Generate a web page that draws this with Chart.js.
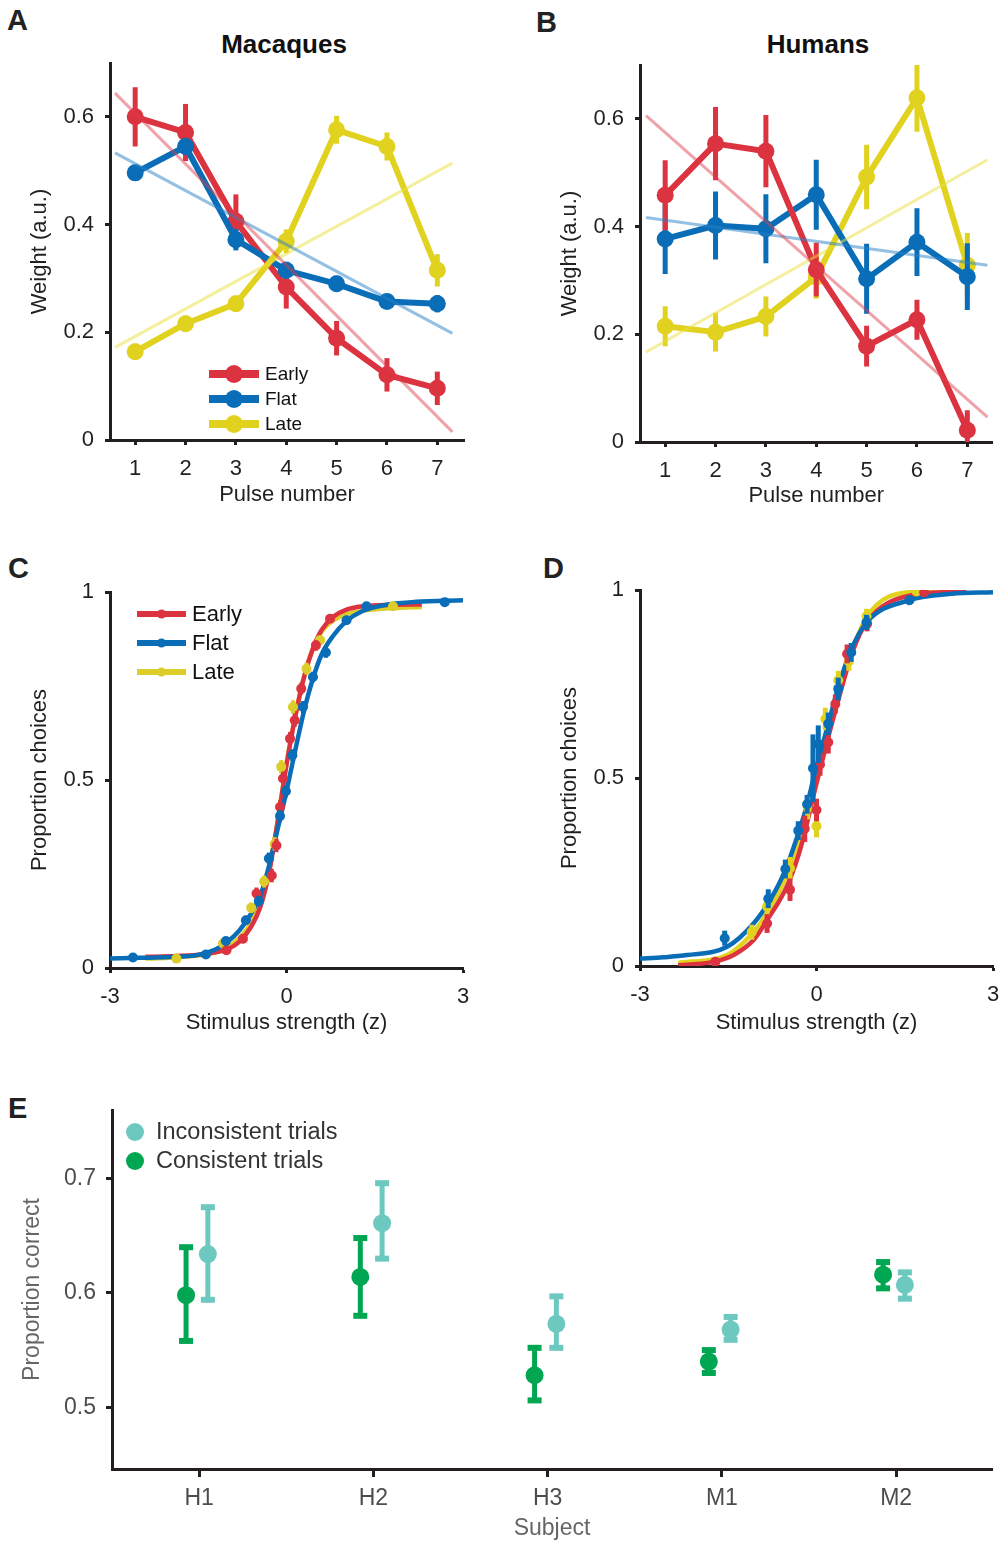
<!DOCTYPE html>
<html>
<head>
<meta charset="utf-8">
<script src="https://cdn.jsdelivr.net/npm/chart.js@4.4.1/dist/chart.umd.min.js"></script>
<style>
  body { margin: 0; background: #fff; width: 1001px; height: 1542px; position: relative; overflow: hidden;
         font-family: "Liberation Sans", Arial, Helvetica, sans-serif; }
  canvas { position: absolute; }
  .letter { position: absolute; font-weight: bold; font-size: 29px; line-height: 1; color: #222; }
  .title { position: absolute; font-weight: bold; font-size: 26px; line-height: 1; color: #111; transform: translateX(-50%); white-space: nowrap; }
</style>
</head>
<body>
<div class="letter" style="left:7px;top:6px">A</div>
<div class="letter" style="left:536px;top:8px">B</div>
<div class="letter" style="left:8px;top:554px">C</div>
<div class="letter" style="left:543px;top:554px">D</div>
<div class="letter" style="left:8px;top:1094px">E</div>
<div class="title" style="left:284px;top:31px">Macaques</div>
<div class="title" style="left:818px;top:31px">Humans</div>

<canvas id="cA" width="500" height="520" style="left:0;top:0"></canvas>
<canvas id="cB" width="471" height="520" style="left:530px;top:0"></canvas>
<canvas id="cC" width="500" height="500" style="left:0;top:550px"></canvas>
<canvas id="cD" width="471" height="500" style="left:530px;top:550px"></canvas>
<canvas id="cE" width="1001" height="462" style="left:0;top:1080px"></canvas>

<script>
// ---- data: panel A (macaques) ----
const pulses = [1, 2, 3, 4, 5, 6, 7];
const macEarly = [0.600, 0.571, 0.406, 0.284, 0.189, 0.121, 0.096];
const macEarlyErr = [0.055, 0.053, 0.050, 0.040, 0.032, 0.031, 0.031];
const macFlat = [0.496, 0.545, 0.372, 0.315, 0.290, 0.257, 0.253];
const macFlatErr = [0.015, 0.016, 0.020, 0.016, 0.015, 0.013, 0.016];
const macLate = [0.164, 0.216, 0.253, 0.369, 0.576, 0.545, 0.315];
const macLateErr = [0.015, 0.015, 0.015, 0.022, 0.026, 0.026, 0.030];
const fitXA = [0.6, 7.3];
const macEarlyFit = [0.644, 0.015];
const macFlatFit = [0.533, 0.198];
const macLateFit = [0.172, 0.514];

// ---- data: panel B (humans) ----
const humEarly = [0.458, 0.554, 0.540, 0.320, 0.178, 0.227, 0.022];
const humEarlyErr = [0.065, 0.068, 0.067, 0.050, 0.038, 0.037, 0.037];
const humFlat = [0.377, 0.402, 0.396, 0.459, 0.303, 0.371, 0.307];
const humFlatErr = [0.065, 0.063, 0.064, 0.065, 0.065, 0.063, 0.062];
const humLate = [0.215, 0.204, 0.233, 0.306, 0.492, 0.639, 0.328];
const humLateErr = [0.037, 0.036, 0.037, 0.040, 0.060, 0.063, 0.060];
const fitXB = [0.62, 7.4];
const humEarlyFit = [0.606, 0.046];
const humFlatFit = [0.417, 0.328];
const humLateFit = [0.167, 0.524];

const weightTicks = [0, 0.2, 0.4, 0.6];
const weightTickLabels = ['0', '0.2', '0.4', '0.6'];
const pulseTickLabels = ['1', '2', '3', '4', '5', '6', '7'];

// ---- data: panel C (macaque psychometric) ----
const cFlatCurveX = [-3, -2.5, -2, -1.5, -1.2, -1.0, -0.8, -0.6, -0.45, -0.3, -0.15, 0, 0.15, 0.3, 0.45, 0.6, 0.8, 1.0, 1.3, 1.7, 2.2, 3];
const cFlatCurveY = [0.025, 0.027, 0.029, 0.035, 0.05, 0.07, 0.10, 0.145, 0.19, 0.27, 0.37, 0.47, 0.58, 0.685, 0.77, 0.835, 0.885, 0.92, 0.95, 0.966, 0.974, 0.978];
const cEarlyCurveX = [-2.4, -2, -1.5, -1.2, -1.0, -0.8, -0.6, -0.45, -0.3, -0.15, 0, 0.15, 0.3, 0.45, 0.6, 0.8, 1.0, 1.3, 1.8, 2.3];
const cEarlyCurveY = [0.03, 0.031, 0.035, 0.042, 0.05, 0.07, 0.11, 0.16, 0.25, 0.39, 0.54, 0.67, 0.775, 0.85, 0.90, 0.935, 0.952, 0.962, 0.966, 0.967];
const cLateCurveX = [-2.4, -2, -1.5, -1.2, -1.0, -0.8, -0.6, -0.45, -0.3, -0.15, 0, 0.15, 0.3, 0.45, 0.6, 0.8, 1.0, 1.3, 1.8, 2.3];
const cLateCurveY = [0.025, 0.027, 0.033, 0.042, 0.055, 0.08, 0.12, 0.175, 0.265, 0.39, 0.545, 0.67, 0.775, 0.85, 0.895, 0.925, 0.94, 0.95, 0.957, 0.96];
const cFlatX = [-2.61, -1.37, -1.03, -0.69, -0.47, -0.30, -0.11, -0.01, 0.10, 0.28, 0.45, 0.67, 1.02, 1.36, 2.69];
const cFlatY = [0.028, 0.036, 0.072, 0.127, 0.178, 0.291, 0.404, 0.470, 0.566, 0.694, 0.774, 0.839, 0.925, 0.962, 0.973];
const cFlatErr = [0.006, 0.008, 0.01, 0.012, 0.014, 0.016, 0.016, 0.016, 0.016, 0.016, 0.014, 0.014, 0.01, 0.008, 0.006];
const cEarlyX = [-1.02, -0.74, -0.51, -0.25, -0.17, -0.11, -0.06, 0.06, 0.14, 0.25, 0.50, 0.74];
const cEarlyY = [0.047, 0.078, 0.198, 0.246, 0.326, 0.428, 0.504, 0.610, 0.659, 0.743, 0.858, 0.929];
const cEarlyErr = [0.01, 0.012, 0.016, 0.018, 0.018, 0.018, 0.018, 0.018, 0.018, 0.016, 0.014, 0.01];
const cLateX = [-1.87, -1.08, -0.60, -0.38, -0.20, -0.09, 0.11, 0.34, 0.57, 1.81];
const cLateY = [0.025, 0.065, 0.16, 0.23, 0.33, 0.535, 0.694, 0.796, 0.872, 0.962];
const cLateErr = [0.006, 0.01, 0.014, 0.016, 0.018, 0.018, 0.018, 0.016, 0.012, 0.006];

// ---- data: panel D (human psychometric) ----
const dFlatCurveX = [-3, -2.6, -2.2, -1.52, -1.07, -0.79, -0.53, -0.31, -0.17, -0.03, 0.2, 0.37, 0.57, 0.85, 1.58, 2.3, 3];
const dFlatCurveY = [0.02, 0.023, 0.029, 0.051, 0.113, 0.175, 0.255, 0.352, 0.423, 0.512, 0.644, 0.741, 0.834, 0.914, 0.973, 0.99, 0.994];
const dEarlyCurveX = [-2.35, -1.75, -1.4, -1.07, -0.84, -0.48, -0.25, -0.03, 0.2, 0.4, 0.62, 0.85, 1.58, 2.55];
const dEarlyCurveY = [0.002, 0.011, 0.03, 0.069, 0.122, 0.22, 0.325, 0.467, 0.609, 0.724, 0.839, 0.914, 0.985, 0.996];
const dLateCurveX = [-2.35, -1.52, -1.1, -0.84, -0.51, -0.28, -0.03, 0.2, 0.46, 0.85, 1.7, 2.27];
const dLateCurveY = [0.008, 0.029, 0.085, 0.14, 0.24, 0.345, 0.485, 0.626, 0.77, 0.927, 0.996, 0.999];
const dFlatX = [-1.56, -0.82, -0.53, -0.31, -0.16, -0.06, 0.03, 0.20, 0.37, 0.59, 0.85, 1.58];
const dFlatY = [0.074, 0.179, 0.258, 0.360, 0.430, 0.526, 0.590, 0.644, 0.737, 0.834, 0.914, 0.973];
const dFlatErr = [0.02, 0.025, 0.025, 0.025, 0.025, 0.09, 0.05, 0.03, 0.03, 0.025, 0.02, 0.012];
const dEarlyX = [-1.72, -0.84, -0.45, -0.20, 0.00, 0.06, 0.20, 0.32, 0.52, 0.86, 1.83];
const dEarlyY = [0.011, 0.113, 0.203, 0.365, 0.415, 0.536, 0.595, 0.697, 0.830, 0.910, 0.994];
const dEarlyErr = [0.01, 0.025, 0.03, 0.035, 0.03, 0.03, 0.03, 0.025, 0.025, 0.02, 0.01];
const dLateX = [-1.10, -0.84, -0.45, -0.15, 0.00, 0.15, 0.37, 0.55, 0.85, 1.70];
const dLateY = [0.090, 0.158, 0.260, 0.420, 0.372, 0.657, 0.760, 0.810, 0.930, 0.996];
const dLateErr = [0.02, 0.025, 0.03, 0.03, 0.03, 0.03, 0.025, 0.025, 0.02, 0.006];

const propTicks = [0, 0.5, 1];
const propTickLabels = ['0', '0.5', '1'];
const zTicks = [-3, 0, 3];
const zTickLabels = ['-3', '0', '3'];

// ---- data: panel E ----
const subjects = ['H1', 'H2', 'H3', 'M1', 'M2'];
const consistent = [0.598, 0.614, 0.528, 0.540, 0.616];
const consistentLo = [0.558, 0.580, 0.506, 0.530, 0.604];
const consistentHi = [0.640, 0.648, 0.552, 0.550, 0.627];
const inconsistent = [0.634, 0.661, 0.573, 0.568, 0.607];
const inconsistentLo = [0.594, 0.630, 0.552, 0.559, 0.595];
const inconsistentHi = [0.675, 0.696, 0.597, 0.579, 0.618];
const correctTicks = [0.5, 0.6, 0.7];
const correctTickLabels = ['0.5', '0.6', '0.7'];

// ---- style ----
const FONT = '"Liberation Sans", Arial, Helvetica, sans-serif';
const AXIS = '#231f20';
const RED = '#dc3340', BLUE = '#0a6db7', YELLOW = '#e1d21f', YELLOW_C = '#dccd2a';
const RED_FIT = 'rgba(222,60,75,0.48)', BLUE_FIT = 'rgba(40,130,200,0.5)', YELLOW_FIT = 'rgba(236,224,60,0.5)';
const GREEN = '#00a651', TEAL = '#6dc8bf';

Chart.defaults.font.family = FONT;
Chart.defaults.animation = false;

const pts = (xs, ys) => xs.map((x, i) => ({ x, y: ys[i] }));

// vertical error bars drawn beneath each dataset
const errorBars = {
  id: 'errorBars',
  beforeDatasetDraw(chart, args) {
    const ds = chart.data.datasets[args.index];
    if (!ds.err && !ds.errLo) return;
    const { ctx, chartArea } = chart;
    const ys = chart.scales.y;
    ctx.save();
    ctx.beginPath();
    ctx.rect(chartArea.left, chartArea.top, chartArea.width, chartArea.height);
    ctx.clip();
    ctx.strokeStyle = ds.borderColor;
    args.meta.data.forEach((el, i) => {
      const v = ds.data[i].y;
      const lo = ds.errLo ? ds.errLo[i] : v - ds.err[i];
      const hi = ds.errHi ? ds.errHi[i] : v + ds.err[i];
      const y0 = ys.getPixelForValue(lo), y1 = ys.getPixelForValue(hi);
      ctx.lineWidth = ds.errWidth;
      ctx.beginPath();
      ctx.moveTo(el.x, y0);
      ctx.lineTo(el.x, y1);
      ctx.stroke();
      if (ds.capWidth) {
        ctx.lineWidth = ds.capHeight;
        [y0, y1].forEach(yy => {
          ctx.beginPath();
          ctx.moveTo(el.x - ds.capWidth / 2, yy);
          ctx.lineTo(el.x + ds.capWidth / 2, yy);
          ctx.stroke();
        });
      }
    });
    ctx.restore();
  }
};

// legend with a line and a marker in the middle
const lineLegend = {
  id: 'lineLegend',
  afterDraw(chart, args, o) {
    if (!o.items) return;
    const { ctx, chartArea } = chart;
    ctx.save();
    o.items.forEach((idx, i) => {
      const ds = chart.data.datasets[idx];
      const x0 = chartArea.left + o.x;
      const y = chartArea.top + o.y + i * o.rowGap;
      if (o.lineLen) {
        ctx.strokeStyle = ds.borderColor;
        ctx.lineWidth = o.lineWidth;
        ctx.beginPath();
        ctx.moveTo(x0, y);
        ctx.lineTo(x0 + o.lineLen, y);
        ctx.stroke();
      }
      ctx.fillStyle = ds.borderColor;
      ctx.beginPath();
      ctx.arc(x0 + o.lineLen / 2, y, o.radius, 0, Math.PI * 2);
      ctx.fill();
      ctx.fillStyle = o.color;
      ctx.font = o.size + 'px ' + FONT;
      ctx.textBaseline = 'middle';
      ctx.textAlign = 'left';
      ctx.fillText(ds.label, x0 + o.textGap, y + 1);
    });
    ctx.restore();
  }
};

function axis(o) {
  return {
    type: 'linear',
    position: o.position,
    min: o.min,
    max: o.max,
    border: { display: true, color: AXIS, width: 3 },
    grid: { drawOnChartArea: false, drawTicks: true, tickLength: o.tickLen || 5, tickWidth: 3, tickColor: AXIS, color: AXIS },
    ticks: {
      padding: o.tickPad, color: o.color || '#231f20', font: { size: o.size || 22 },
      autoSkip: false, maxRotation: 0, minRotation: 0,
      callback: (v, i) => o.labels[i]
    },
    title: { display: true, text: o.title, color: o.titleColor || '#231f20', font: { size: o.size || 22 }, padding: o.titlePad },
    afterBuildTicks: (s) => { s.ticks = o.ticks.map(v => ({ value: v })); },
    afterFit: (s) => {
      if (o.position === 'left') s.width = o.box; else s.height = o.box;
      s.paddingLeft = 0; s.paddingRight = 0; s.paddingTop = 0; s.paddingBottom = 0;
    }
  };
}

function weightSet(label, ys, err, color, order) {
  return {
    label, data: pts(pulses, ys), err, showLine: true, order,
    borderColor: color, backgroundColor: color, borderWidth: 6, borderJoinStyle: 'round',
    pointRadius: 8.5, pointHoverRadius: 8.5, pointBorderWidth: 0, errWidth: 5
  };
}
function fitSet(xs, ys, color) {
  return { data: pts(xs, ys), showLine: true, order: 0, borderColor: color, borderWidth: 3, pointRadius: 0 };
}
function curveSet(xs, ys, color, order) {
  return { data: pts(xs, ys), showLine: true, order, borderColor: color, borderWidth: 4.5, pointRadius: 0, cubicInterpolationMode: 'monotone' };
}
function dotSet(label, xs, ys, err, color, order, ew) {
  return {
    label, data: pts(xs, ys), err, showLine: false, order,
    borderColor: color, backgroundColor: color, pointRadius: 5, pointHoverRadius: 5, pointBorderWidth: 0, errWidth: ew
  };
}

const baseOpts = (padding, scales, legend) => ({
  responsive: false,
  animation: false,
  layout: { padding },
  plugins: { legend: { display: false }, tooltip: { enabled: false }, lineLegend: legend || {} },
  scales
});

// ---- A ----
new Chart(document.getElementById('cA'), {
  type: 'scatter',
  data: { datasets: [
    weightSet('Early', macEarly, macEarlyErr, RED, 3),
    weightSet('Flat', macFlat, macFlatErr, BLUE, 2),
    weightSet('Late', macLate, macLateErr, YELLOW, 1),
    fitSet(fitXA, macEarlyFit, RED_FIT),
    fitSet(fitXA, macFlatFit, BLUE_FIT),
    fitSet(fitXA, macLateFit, YELLOW_FIT)
  ] },
  options: baseOpts({ top: 63, right: 36, left: 0, bottom: 0 }, {
    x: axis({ position: 'bottom', min: 0.5, max: 7.53, ticks: pulses, labels: pulseTickLabels, title: 'Pulse number', box: 80, tickPad: 11, titlePad: { top: 0, bottom: 12 } }),
    y: axis({ position: 'left', min: 0, max: 0.7, ticks: weightTicks, labels: weightTickLabels, title: 'Weight (a.u.)', box: 110, tickPad: 11, titlePad: { top: 27, bottom: 0 } })
  }, { items: [0, 1, 2], x: 99, y: 311, rowGap: 25, lineLen: 50, lineWidth: 8, radius: 9, textGap: 56, size: 19, color: '#111' }),
  plugins: [errorBars, lineLegend]
});

// ---- B ----
new Chart(document.getElementById('cB'), {
  type: 'scatter',
  data: { datasets: [
    weightSet('Early', humEarly, humEarlyErr, RED, 1),
    weightSet('Flat', humFlat, humFlatErr, BLUE, 2),
    weightSet('Late', humLate, humLateErr, YELLOW, 3),
    fitSet(fitXB, humEarlyFit, RED_FIT),
    fitSet(fitXB, humFlatFit, BLUE_FIT),
    fitSet(fitXB, humLateFit, YELLOW_FIT)
  ] },
  options: baseOpts({ top: 65, right: 8, left: 0, bottom: 0 }, {
    x: axis({ position: 'bottom', min: 0.5, max: 7.5, ticks: pulses, labels: pulseTickLabels, title: 'Pulse number', box: 78, tickPad: 11, titlePad: { top: 0, bottom: 11 } }),
    y: axis({ position: 'left', min: 0, max: 0.7, ticks: weightTicks, labels: weightTickLabels, title: 'Weight (a.u.)', box: 110, tickPad: 11, titlePad: { top: 27, bottom: 0 } })
  }),
  plugins: [errorBars]
});

// ---- C ----
new Chart(document.getElementById('cC'), {
  type: 'scatter',
  data: { datasets: [
    dotSet('Early', cEarlyX, cEarlyY, cEarlyErr, RED, 1, 4),
    dotSet('Flat', cFlatX, cFlatY, cFlatErr, BLUE, 0, 4),
    dotSet('Late', cLateX, cLateY, cLateErr, YELLOW_C, 2, 4),
    curveSet(cLateCurveX, cLateCurveY, YELLOW_C, 5),
    curveSet(cEarlyCurveX, cEarlyCurveY, RED, 4),
    curveSet(cFlatCurveX, cFlatCurveY, BLUE, 3)
  ] },
  options: baseOpts({ top: 42, right: 37, left: 0, bottom: 0 }, {
    x: axis({ position: 'bottom', min: -3, max: 3, ticks: zTicks, labels: zTickLabels, title: 'Stimulus strength (z)', box: 82, tickPad: 11, titlePad: { top: 0, bottom: 14 } }),
    y: axis({ position: 'left', min: 0, max: 1, ticks: propTicks, labels: propTickLabels, title: 'Proportion choices', box: 110, tickPad: 11, titlePad: { top: 27, bottom: 0 } })
  }, { items: [0, 1, 2], x: 27, y: 22, rowGap: 29, lineLen: 49, lineWidth: 6, radius: 4.5, textGap: 55, size: 22, color: '#111' }),
  plugins: [errorBars, lineLegend]
});

// ---- D ----
new Chart(document.getElementById('cD'), {
  type: 'scatter',
  data: { datasets: [
    dotSet('Early', dEarlyX, dEarlyY, dEarlyErr, RED, 1, 5),
    dotSet('Flat', dFlatX, dFlatY, dFlatErr, BLUE, 0, 5),
    dotSet('Late', dLateX, dLateY, dLateErr, YELLOW, 2, 5),
    curveSet(dLateCurveX, dLateCurveY, YELLOW, 5),
    curveSet(dEarlyCurveX, dEarlyCurveY, RED, 4),
    curveSet(dFlatCurveX, dFlatCurveY, BLUE, 3)
  ] },
  options: baseOpts({ top: 40, right: 8, left: 0, bottom: 0 }, {
    x: axis({ position: 'bottom', min: -3, max: 3, ticks: zTicks, labels: zTickLabels, title: 'Stimulus strength (z)', box: 84, tickPad: 11, titlePad: { top: 0, bottom: 14 } }),
    y: axis({ position: 'left', min: 0, max: 1, ticks: propTicks, labels: propTickLabels, title: 'Proportion choices', box: 110, tickPad: 11, titlePad: { top: 27, bottom: 0 } })
  }),
  plugins: [errorBars]
});

// ---- E ----
const subjPos = subjects.map((s, i) => i + 1);
new Chart(document.getElementById('cE'), {
  type: 'scatter',
  data: { datasets: [
    { label: 'Inconsistent trials', data: pts(subjPos.map(p => p + 0.05), inconsistent), errLo: inconsistentLo, errHi: inconsistentHi,
      borderColor: TEAL, backgroundColor: TEAL, pointRadius: 9, pointHoverRadius: 9, pointBorderWidth: 0, errWidth: 5, capWidth: 14, capHeight: 6 },
    { label: 'Consistent trials', data: pts(subjPos.map(p => p - 0.075), consistent), errLo: consistentLo, errHi: consistentHi,
      borderColor: GREEN, backgroundColor: GREEN, pointRadius: 9, pointHoverRadius: 9, pointBorderWidth: 0, errWidth: 5, capWidth: 14, capHeight: 6 }
  ] },
  options: baseOpts({ top: 30, right: 8, left: 0, bottom: 0 }, {
    x: axis({ position: 'bottom', min: 0.5, max: 5.55, ticks: subjPos, labels: subjects, title: 'Subject', box: 73, tickPad: 8, tickLen: 8, size: 23, color: '#4d4d4d', titleColor: '#666', titlePad: { top: 0, bottom: 0 } }),
    y: axis({ position: 'left', min: 0.446, max: 0.76, ticks: correctTicks, labels: correctTickLabels, title: 'Proportion correct', box: 112, tickPad: 10, tickLen: 6, size: 23, color: '#4d4d4d', titleColor: '#666', titlePad: { top: 19, bottom: 0 } })
  }, { items: [0, 1], x: 23, y: 22, rowGap: 29, lineLen: 0, radius: 9, textGap: 21, size: 23.5, color: '#333' }),
  plugins: [errorBars, lineLegend]
});
</script>
</body>
</html>
